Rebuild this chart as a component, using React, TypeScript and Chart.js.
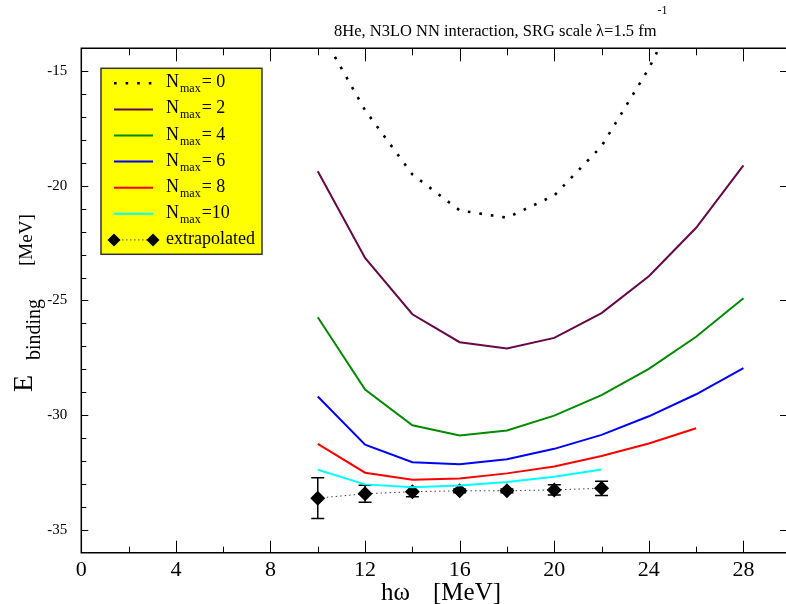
import React, { useEffect, useRef } from "react";
import { Chart, registerables } from "chart.js";

Chart.register(...registerables);

// ---- data ----
const hw = [10, 12, 14, 16, 18, 20, 22, 24, 26, 28];
const nmax0 = [-13.05, -16.7, -19.5, -21.07, -21.39, -20.42, -18.27, -14.88, -10.75, -6.5];
const nmax2 = [-19.36, -23.14, -25.6, -26.82, -27.09, -26.63, -25.55, -23.94, -21.83, -19.11];
const nmax4 = [-25.73, -28.88, -30.44, -30.89, -30.67, -30.02, -29.13, -27.98, -26.58, -24.9];
const nmax6 = [-29.19, -31.29, -32.05, -32.14, -31.92, -31.47, -30.86, -30.05, -29.09, -27.95];
const nmax8 = [-31.25, -32.51, -32.82, -32.76, -32.54, -32.24, -31.78, -31.24, -30.57];
const nmax10 = [-32.38, -33.02, -33.14, -33.07, -32.92, -32.69, -32.37];
const extrap = [-33.62, -33.43, -33.34, -33.3, -33.3, -33.26, -33.19];
const extrapErr = [0.89, 0.37, 0.22, 0.08, 0.08, 0.22, 0.31];

const xTickLabels = [0, 4, 8, 12, 16, 20, 24, 28];
const yTickLabels = [-35, -30, -25, -20, -15];
const legendValues = ["= 0", "= 2", "= 4", "= 6", "= 8", "=10"];
const extrapLabel = "extrapolated";
const seriesColors = ["#000000", "#670748", "#008b00", "#0000ff", "#ff0000", "#00ffff"];
const titleMain = "8He, N3LO NN interaction, SRG scale \u03bb=1.5 fm";
const titleSup = "-1";

const SERIF = "'Liberation Serif','Times New Roman',serif";

const pts = (ys: number[]) => ys.map((y, i) => ({ x: hw[i], y }));

const decor = {
  id: "decor",
  beforeDatasetsDraw(chart: any) {
    const { ctx } = chart;
    const xs = chart.scales.x;
    const ys = chart.scales.y;
    ctx.save();
    ctx.strokeStyle = "#000";
    ctx.lineWidth = 1.5;
    extrap.forEach((v, i) => {
      const px = xs.getPixelForValue(hw[i]);
      const top = ys.getPixelForValue(v + extrapErr[i]);
      const bot = ys.getPixelForValue(v - extrapErr[i]);
      ctx.beginPath();
      ctx.moveTo(px, top);
      ctx.lineTo(px, bot);
      ctx.moveTo(px - 6.5, top);
      ctx.lineTo(px + 6.5, top);
      ctx.moveTo(px - 6.5, bot);
      ctx.lineTo(px + 6.5, bot);
      ctx.stroke();
    });
    ctx.restore();
  },
  afterDraw(chart: any) {
    const { ctx, chartArea } = chart;
    const { left, right, top, bottom } = chartArea;
    const xs = chart.scales.x;
    const ys = chart.scales.y;
    ctx.save();
    // frame (right border lies just beyond the visible area)
    ctx.strokeStyle = "#000";
    ctx.lineWidth = 1.5;
    ctx.beginPath();
    ctx.moveTo(right + 2, top);
    ctx.lineTo(left, top);
    ctx.lineTo(left, bottom);
    ctx.lineTo(right + 2, bottom);
    ctx.stroke();
    // x ticks
    ctx.lineWidth = 1;
    ctx.beginPath();
    for (let v = 0; v <= 28; v += 2) {
      const px = Math.round(xs.getPixelForValue(v)) + 0.5;
      const major = v % 4 === 0;
      ctx.moveTo(px, bottom);
      ctx.lineTo(px, bottom - (major ? 12 : 6));
      ctx.moveTo(px, top);
      ctx.lineTo(px, top + (major ? 13 : 7));
    }
    // y ticks
    for (let v = -35; v <= -15; v += 1) {
      const py = Math.round(ys.getPixelForValue(v)) + 0.5;
      const major = v % 5 === 0;
      ctx.moveTo(left, py);
      ctx.lineTo(left + (major ? 7 : 5), py);
      if (major) {
        ctx.moveTo(right + 1, py);
        ctx.lineTo(right - 6, py);
      }
    }
    ctx.stroke();

    ctx.fillStyle = "#000";
    ctx.textBaseline = "alphabetic";
    ctx.textAlign = "left";
    // title
    ctx.font = `16.5px ${SERIF}`;
    const tx = 334;
    ctx.fillText(titleMain, tx, 36);
    const tw = ctx.measureText(titleMain).width;
    ctx.font = `12px ${SERIF}`;
    ctx.fillText(titleSup, tx + tw + 1, 14);

    // x title
    ctx.font = `25px ${SERIF}`;
    ctx.fillText("h\u03c9", 381, 600);
    ctx.fillText("[MeV]", 433, 600);

    // y title (rotated)
    ctx.save();
    ctx.translate(32, 392);
    ctx.rotate(-Math.PI / 2);
    ctx.font = `28px ${SERIF}`;
    ctx.fillText("E", 0, 0);
    ctx.font = `20px ${SERIF}`;
    ctx.fillText("binding", 32, 8);
    ctx.font = `19px ${SERIF}`;
    ctx.fillText("[MeV]", 126, 0);
    ctx.restore();

    // legend
    const lx = 101, ly = 68.3, lw = 161, lh = 186;
    ctx.fillStyle = "#ffff00";
    ctx.fillRect(lx, ly, lw, lh);
    ctx.strokeStyle = "#333";
    ctx.lineWidth = 1.5;
    ctx.strokeRect(lx, ly, lw, lh);
    const rowY = (i: number) => 83.3 + i * 26.1;
    chart.data.datasets.slice(0, 6).forEach((ds: any, i: number) => {
      const y = rowY(i);
      ctx.save();
      ctx.strokeStyle = ds.borderColor;
      ctx.lineWidth = ds.borderWidth;
      ctx.setLineDash(ds.borderDash || []);
      ctx.beginPath();
      ctx.moveTo(114, y);
      ctx.lineTo(153, y);
      ctx.stroke();
      ctx.restore();
      ctx.fillStyle = "#000";
      ctx.font = `18px ${SERIF}`;
      ctx.fillText("N", 166, y + 4);
      const nw = ctx.measureText("N").width;
      ctx.font = `12px ${SERIF}`;
      ctx.fillText("max", 166 + nw + 1, y + 9);
      const mw = ctx.measureText("max").width;
      ctx.font = `18px ${SERIF}`;
      ctx.fillText(legendValues[i], 166 + nw + 1 + mw + 1, y + 4);
    });
    {
      const y = rowY(6);
      ctx.save();
      ctx.strokeStyle = "#555";
      ctx.lineWidth = 1;
      ctx.setLineDash([1.5, 2.5]);
      ctx.beginPath();
      ctx.moveTo(114, y);
      ctx.lineTo(153, y);
      ctx.stroke();
      ctx.restore();
      ctx.fillStyle = "#000";
      [114, 153].forEach((cx) => {
        ctx.beginPath();
        ctx.moveTo(cx - 6.5, y);
        ctx.lineTo(cx, y - 6.5);
        ctx.lineTo(cx + 6.5, y);
        ctx.lineTo(cx, y + 6.5);
        ctx.closePath();
        ctx.fill();
      });
      ctx.font = `18px ${SERIF}`;
      ctx.fillText(extrapLabel, 166, y + 4);
    }
    ctx.restore();
  },
};

export default function App() {
  const ref = useRef<HTMLCanvasElement | null>(null);
  useEffect(() => {
    document.body.style.margin = "0";
    const canvas = ref.current;
    if (!canvas) return;
    const lineDs = (data: number[], color: string, extra: any = {}) => ({
      data: pts(data),
      borderColor: color,
      backgroundColor: color,
      borderWidth: 2,
      pointRadius: 0,
      fill: false,
      tension: 0,
      ...extra,
    });
    const chart = new Chart(canvas, {
      type: "line",
      data: {
        datasets: [
          lineDs(nmax0, seriesColors[0], { borderWidth: 2.6, borderDash: [2.6, 9] }),
          lineDs(nmax2, seriesColors[1]),
          lineDs(nmax4, seriesColors[2]),
          lineDs(nmax6, seriesColors[3]),
          lineDs(nmax8, seriesColors[4]),
          lineDs(nmax10, seriesColors[5]),
          {
            data: pts(extrap),
            borderColor: "#444",
            backgroundColor: "#000",
            borderWidth: 1,
            borderDash: [1.5, 3],
            pointStyle: "rectRot",
            pointRadius: 7.5,
            pointBackgroundColor: "#000",
            pointBorderColor: "#000",
            pointBorderWidth: 0,
            fill: false,
            tension: 0,
          },
        ],
      },
      options: {
        animation: false,
        responsive: false,
        devicePixelRatio: 1,
        layout: { autoPadding: false, padding: { top: 48.3, left: 0, right: 0, bottom: 0 } },
        plugins: { legend: { display: false }, title: { display: false }, tooltip: { enabled: false } },
        scales: {
          x: {
            type: "linear",
            min: 0,
            max: 29.8,
            afterBuildTicks: (s: any) => {
              s.ticks = xTickLabels.map((v) => ({ value: v }));
            },
            afterFit: (s: any) => {
              s.height = 51.3;
              s.paddingLeft = 0;
              s.paddingRight = 0;
            },
            ticks: {
              font: { family: SERIF, size: 22 },
              color: "#000",
              padding: 4,
              maxRotation: 0,
              autoSkip: false,
            },
            grid: { display: false, drawTicks: false },
            border: { display: false },
          },
          y: {
            type: "linear",
            min: -36,
            max: -14,
            afterBuildTicks: (s: any) => {
              s.ticks = yTickLabels.map((v) => ({ value: v }));
            },
            afterFit: (s: any) => {
              s.width = 81.3;
              s.paddingTop = 0;
              s.paddingBottom = 0;
            },
            ticks: {
              font: { family: SERIF, size: 15 },
              color: "#000",
              padding: 14,
              autoSkip: false,
            },
            grid: { display: false, drawTicks: false },
            border: { display: false },
          },
        },
      },
      plugins: [decor],
    } as any);
    return () => chart.destroy();
  }, []);
  return (
    <div style={{ width: 786, height: 604, background: "#fff" }}>
      <canvas ref={ref} width={786} height={604} style={{ display: "block" }} />
    </div>
  );
}
